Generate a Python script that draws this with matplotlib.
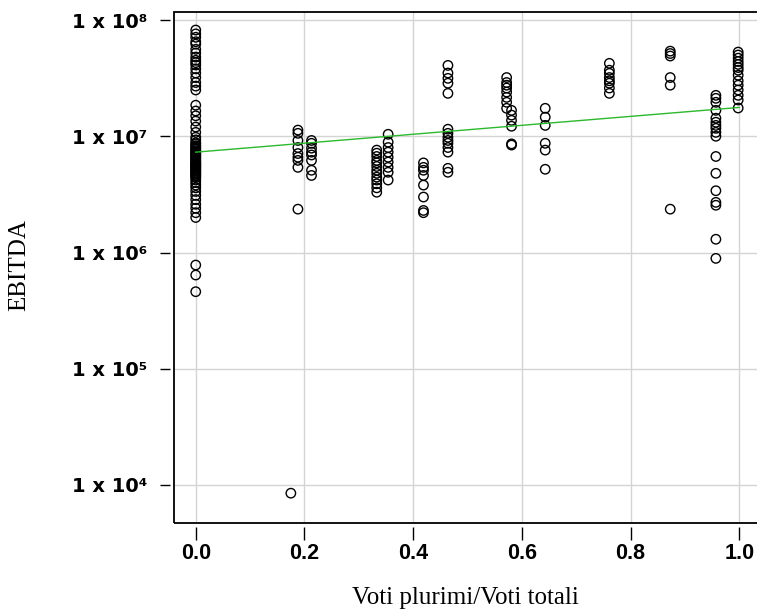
import matplotlib
matplotlib.use("Agg")
import matplotlib.pyplot as plt
from matplotlib.patches import Rectangle
import numpy as np

# ---- data ----
x_col0 = 0.0
v_col0 = [8.2e7, 7.6e7, 7.1e7, 6.5e7, 6.2e7, 5.6e7, 5.2e7, 4.8e7, 4.5e7, 4.3e7, 4.1e7,
          3.8e7, 3.5e7, 3.2e7, 2.9e7, 2.7e7, 2.5e7,
          1.85e7, 1.65e7, 1.5e7, 1.35e7, 1.2e7, 1.08e7,
          9.8e6, 9.3e6, 8.8e6, 8.3e6, 7.9e6, 7.5e6, 7.2e6, 6.9e6, 6.6e6, 6.3e6, 6.0e6,
          5.8e6, 5.6e6, 5.4e6, 5.2e6, 5.0e6, 4.8e6, 4.6e6, 4.4e6, 4.2e6, 4.0e6, 3.8e6,
          3.6e6, 3.35e6, 3.1e6, 2.85e6, 2.6e6, 2.4e6, 2.2e6, 2.0e6,
          8.6e6, 8.1e6, 7.7e6, 7.35e6, 7.05e6, 6.75e6, 6.45e6, 6.15e6, 5.9e6, 5.7e6,
          5.5e6, 5.3e6, 5.1e6, 4.9e6, 4.7e6, 4.5e6,
          7.8e5, 6.4e5, 4.6e5]
x_col1 = 0.175
v_col1 = [8.5e3]
x_col2 = 0.188
v_col2 = [1.13e7, 1.06e7, 9.2e6, 8.0e6, 7.1e6, 6.6e6, 6.2e6, 5.4e6, 2.36e6]
x_col3 = 0.213
v_col3 = [9.2e6, 8.7e6, 7.9e6, 7.3e6, 6.9e6, 6.2e6, 5.1e6, 4.6e6]
x_col4 = 0.333
v_col4 = [7.6e6, 7.15e6, 6.7e6, 6.2e6, 5.9e6, 5.5e6, 5.1e6, 4.8e6, 4.45e6, 4.2e6,
          3.9e6, 3.6e6, 3.3e6]
x_col5 = 0.354
v_col5 = [1.04e7, 8.9e6, 8.0e6, 7.3e6, 6.6e6, 6.0e6, 5.4e6, 4.9e6, 4.2e6]
x_col6 = 0.419
v_col6 = [5.9e6, 5.4e6, 5.1e6, 4.6e6, 3.8e6, 3.0e6, 2.3e6, 2.2e6]
x_col7 = 0.464
v_col7 = [4.07e7, 3.5e7, 3.15e7, 2.86e7, 2.34e7,
          1.15e7, 1.06e7, 9.8e6, 9.2e6, 8.7e6, 8.0e6, 7.3e6, 5.3e6, 4.9e6]
x_col8 = 0.572
v_col8 = [3.2e7, 2.9e7, 2.75e7, 2.6e7, 2.4e7, 2.16e7, 1.96e7, 1.74e7]
x_col9 = 0.581
v_col9 = [1.67e7, 1.52e7, 1.37e7, 1.22e7, 8.6e6, 8.4e6]
x_col10 = 0.643
v_col10 = [1.74e7, 1.46e7, 1.24e7, 8.7e6, 7.6e6, 5.2e6]
x_col11 = 0.761
v_col11 = [4.24e7, 3.7e7, 3.48e7, 3.2e7, 3.0e7, 2.86e7, 2.6e7, 2.34e7]
x_col12 = 0.873
v_col12 = [5.4e7, 5.15e7, 4.9e7, 3.2e7, 2.75e7, 2.36e6]
x_col13 = 0.957
v_col13 = [2.25e7, 2.12e7, 1.96e7, 1.67e7, 1.43e7, 1.32e7, 1.24e7, 1.17e7, 1.08e7,
           1.0e7, 6.7e6, 4.8e6, 3.4e6, 2.7e6, 2.55e6, 1.3e6, 8.9e5]
x_col14 = 0.998
v_col14 = [5.3e7, 5.0e7, 4.7e7, 4.4e7, 4.15e7, 3.9e7, 3.7e7, 3.35e7, 3.0e7, 2.75e7,
           2.5e7, 2.25e7, 2.05e7, 1.75e7]

fit_x = [0.0, 1.0]
fit_y = [7.3e6, 1.77e7]

x_ticks = [0.0, 0.2, 0.4, 0.6, 0.8, 1.0]
x_ticklabels = ["0.0", "0.2", "0.4", "0.6", "0.8", "1.0"]
y_ticks = [1e4, 1e5, 1e6, 1e7, 1e8]
y_ticklabels = ["1 x 10\u2074", "1 x 10\u2075", "1 x 10\u2076", "1 x 10\u2077", "1 x 10\u2078"]
x_label = "Voti plurimi/Voti totali"
y_label = "EBITDA"

columns = [(x_col0, v_col0), (x_col1, v_col1), (x_col2, v_col2), (x_col3, v_col3),
           (x_col4, v_col4), (x_col5, v_col5), (x_col6, v_col6), (x_col7, v_col7),
           (x_col8, v_col8), (x_col9, v_col9), (x_col10, v_col10), (x_col11, v_col11),
           (x_col12, v_col12), (x_col13, v_col13), (x_col14, v_col14)]

# ---- figure ----
W, H = 757, 614
fig = plt.figure(figsize=(W / 100, H / 100), dpi=100)
left, right, top, bottom = 174, 761, 12, 523
ax = fig.add_axes([left / W, 1 - bottom / H, (right - left) / W, (bottom - top) / H])

ax.set_yscale("log")
ax.set_xlim(-0.04, 1.04)
ax.set_ylim(10 ** 3.673, 10 ** 8.069)

ax.grid(True, color="#d4d4d4", lw=1.0)
ax.set_axisbelow(True)

for xc, vals in columns:
    ax.scatter([xc] * len(vals), vals, s=46, facecolors="none", edgecolors="black",
               linewidths=1.0, zorder=3)

ax.plot(fit_x, fit_y, color="#2db82d", lw=1.0, zorder=4)

for s in ax.spines.values():
    s.set_visible(False)
ax.spines["bottom"].set_position(("outward", 3))
ax.spines["left"].set_position(("outward", 3))
ax.add_patch(Rectangle((0, 0), 1, 1, transform=ax.transAxes, fill=False,
                       edgecolor="black", lw=1.3, clip_on=False, zorder=5))

ax.set_xticks(x_ticks)
ax.set_xticklabels(x_ticklabels, fontfamily="Liberation Sans", fontweight="bold", fontsize=15.5)
ax.set_yticks(y_ticks)
ax.set_yticklabels(y_ticklabels, fontfamily=["DejaVu Sans"], fontweight="bold", fontsize=14)
ax.minorticks_off()
ax.tick_params(axis="x", direction="out", length=9.5, width=1.0, pad=2)
ax.tick_params(axis="y", direction="out", length=7.5, width=1.0, pad=9)

fig.text(465 / W, 1 - 598 / H, x_label, ha="center", va="center",
         fontfamily="Liberation Serif", fontsize=18)
fig.text(19 / W, 1 - 265 / H, y_label, ha="center", va="center", rotation=90,
         fontfamily="Liberation Serif", fontsize=18)

fig.savefig("out.png", dpi=100)
